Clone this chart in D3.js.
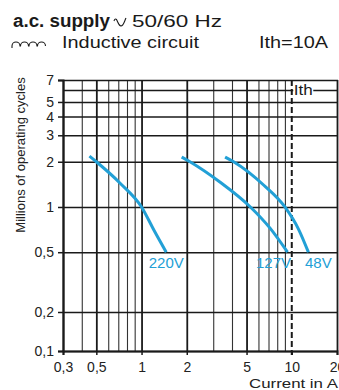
<!DOCTYPE html>
<html>
<head>
<meta charset="utf-8">
<script src="https://cdn.jsdelivr.net/npm/d3@7"></script>
<style>
  body { margin: 0; background: #fff; }
  svg { display: block; font-family: "Liberation Sans", Arial, sans-serif; }
</style>
</head>
<body>
<div id="chart"></div>
<script>
// axis ticks (comma decimals as in the catalogue)
const xTickValues = [0.3, 0.5, 1, 2, 5, 10, 20];
const xTickLabels = ["0,3", "0,5", "1", "2", "5", "10", "20"];
const yTickValues = [0.1, 0.2, 0.5, 1, 2, 3, 4, 5, 7];
const yTickLabels = ["0,1", "0,2", "0,5", "1", "2", "3", "4", "5", "7"];

// grid lines of the log paper
const xGrid = [0.3, 0.4, 0.5, 0.6, 0.7, 0.8, 0.9, 1, 2, 3, 4, 5, 6, 7, 8, 9, 20];
const xGridMajor = [0.3, 0.5, 1, 2, 5, 20];
const yGrid = [0.1, 0.2, 0.5, 1, 2, 3, 4, 5, 6, 7];
const ith = 10;

// curves: current in A / millions of operating cycles
const seriesNames = ["220V", "127V", "48V"];
const current220 = [0.45, 0.5, 0.72, 1.0, 1.21, 1.46];
const cycles220 = [2.18, 2.0, 1.44, 1.0, 0.70, 0.5];
const current127 = [1.85, 2.1, 3.34, 5.3, 7.19, 9.37];
const cycles127 = [2.15, 2.0, 1.46, 1.0, 0.72, 0.5];
const current48 = [3.6, 4.1, 6.49, 9.0, 11.1, 12.9];
const cycles48 = [2.15, 2.0, 1.4, 1.0, 0.71, 0.5];

const blue = "#22a0d6";
const ink = "#1a1a1a";

const width = 339, height = 390;
const plot = { left: 63, right: 337, top: 80, bottom: 351 };

const x = d3.scaleLog().domain([0.3, 20]).range([plot.left, plot.right]);
// the printed paper is a bit squeezed below 0,2
const y = d3.scaleLog().domain([0.1, 0.2, 7]).range([plot.bottom, plot.bottom - 39, plot.top]);

const svg = d3.select("#chart").append("svg")
    .attr("width", width)
    .attr("height", height);

// --- header
svg.append("text")
    .attr("x", 13).attr("y", 27)
    .attr("font-size", 18).attr("font-weight", "bold")
    .attr("textLength", 97).attr("lengthAdjust", "spacingAndGlyphs")
    .attr("fill", ink)
    .text("a.c. supply");

// a.c. symbol
svg.append("path")
    .attr("d", "M114,21 Q115,18 116.5,19.5 C118,22 118.5,26 121,26 C123.5,26 124.5,21 126,18")
    .attr("fill", "none")
    .attr("stroke", ink)
    .attr("stroke-width", 1.1);

svg.append("text")
    .attr("x", 132).attr("y", 27)
    .attr("font-size", 17)
    .attr("textLength", 90).attr("lengthAdjust", "spacingAndGlyphs")
    .attr("fill", ink)
    .text("50/60 Hz");

// coil symbol
const coil = d3.path();
coil.moveTo(12, 48);
for (let i = 0; i < 4; i++) {
  const cx = 16 + i * 8.5;
  coil.arc(cx, 46, 4, Math.PI, 0);
}
svg.append("path")
    .attr("d", coil.toString())
    .attr("fill", "none")
    .attr("stroke", ink)
    .attr("stroke-width", 1.1);

svg.append("text")
    .attr("x", 62).attr("y", 48)
    .attr("font-size", 16)
    .attr("textLength", 137).attr("lengthAdjust", "spacingAndGlyphs")
    .attr("fill", ink)
    .text("Inductive circuit");

svg.append("text")
    .attr("x", 259).attr("y", 48)
    .attr("font-size", 16)
    .attr("textLength", 69).attr("lengthAdjust", "spacingAndGlyphs")
    .attr("fill", ink)
    .text("Ith=" + ith + "A");

// --- grid
svg.append("g")
    .attr("transform", `translate(0,${plot.bottom})`)
    .call(d3.axisBottom(x).tickValues(xGrid).tickSize(-(plot.bottom - plot.top)).tickFormat(""))
    .call(g => g.select(".domain").remove())
    .call(g => g.selectAll("line")
        .attr("stroke", d => xGridMajor.includes(d) ? ink : "#333")
        .attr("stroke-width", d => xGridMajor.includes(d) ? 1.8 : 1.1));

svg.append("g")
    .attr("transform", `translate(${plot.left},0)`)
    .call(d3.axisLeft(y).tickValues(yGrid).tickSize(-(plot.right - plot.left + 1)).tickFormat(""))
    .call(g => g.select(".domain").remove())
    .call(g => g.selectAll("line")
        .attr("stroke", ink)
        .attr("stroke-width", 1.5));

// --- axes with labels
svg.append("g")
    .attr("transform", `translate(${plot.left},0)`)
    .call(d3.axisLeft(y).tickValues(yTickValues).tickSize(5).tickPadding(4)
      .tickFormat((d, i) => yTickLabels[i]))
    .call(g => g.select(".domain").attr("stroke", ink).attr("stroke-width", 2))
    .call(g => g.selectAll("line").attr("stroke", ink).attr("stroke-width", 1.5))
    .call(g => g.selectAll("text")
        .attr("font-size", 14)
        .attr("font-family", "Liberation Sans, Arial, sans-serif")
        .attr("fill", "#222"));

svg.append("g")
    .attr("transform", `translate(0,${plot.bottom})`)
    .call(d3.axisBottom(x).tickValues(xTickValues).tickSize(4).tickPadding(7)
      .tickFormat((d, i) => xTickLabels[i]))
    .call(g => g.select(".domain").attr("stroke", ink).attr("stroke-width", 2))
    .call(g => g.selectAll("line").attr("stroke", ink).attr("stroke-width", 1.5))
    .call(g => g.selectAll("text")
        .attr("font-size", 14)
        .attr("font-family", "Liberation Sans, Arial, sans-serif")
        .attr("fill", "#222"));

// Ith limit
svg.append("line")
    .attr("x1", x(ith)).attr("x2", x(ith))
    .attr("y1", plot.top).attr("y2", plot.bottom + 4)
    .attr("stroke", ink)
    .attr("stroke-width", 2)
    .attr("stroke-dasharray", "6,3");

svg.append("rect")
    .attr("x", x(ith) + 1.5).attr("y", y(6) - 6)
    .attr("width", 20).attr("height", 12)
    .attr("fill", "#fff");

svg.append("text")
    .attr("x", x(ith) + 2).attr("y", y(6) + 5)
    .attr("font-size", 14)
    .attr("textLength", 19).attr("lengthAdjust", "spacingAndGlyphs")
    .attr("fill", ink)
    .text("Ith");

// --- curves
const series = [
  current220.map((c, i) => [c, cycles220[i]]),
  current127.map((c, i) => [c, cycles127[i]]),
  current48.map((c, i) => [c, cycles48[i]])
];
// label shift from the curve end, as printed
const labelDx = [0, -14, 10];

const line = d3.line()
    .x(d => x(d[0]))
    .y(d => y(d[1]))
    .curve(d3.curveMonotoneX);

svg.append("g")
  .selectAll("path")
  .data(series)
  .enter()
  .append("path")
    .attr("d", line)
    .attr("fill", "none")
    .attr("stroke", blue)
    .attr("stroke-width", 3);

svg.append("g")
  .selectAll("text")
  .data(series)
  .enter()
  .append("text")
    .attr("x", (d, i) => x(d[d.length - 1][0]) + labelDx[i])
    .attr("y", d => y(d[d.length - 1][1]) + 16)
    .attr("text-anchor", "middle")
    .attr("font-size", 15)
    .attr("fill", blue)
    .text((d, i) => seriesNames[i]);

// axis titles
svg.append("text")
    .attr("transform", "translate(25,155) rotate(-90)")
    .attr("text-anchor", "middle")
    .attr("font-size", 13)
    .attr("fill", "#222")
    .text("Millions of operating cycles");

svg.append("text")
    .attr("x", 249).attr("y", 388)
    .attr("font-size", 13)
    .attr("textLength", 89).attr("lengthAdjust", "spacingAndGlyphs")
    .attr("fill", "#222")
    .text("Current in A");
</script>
</body>
</html>
